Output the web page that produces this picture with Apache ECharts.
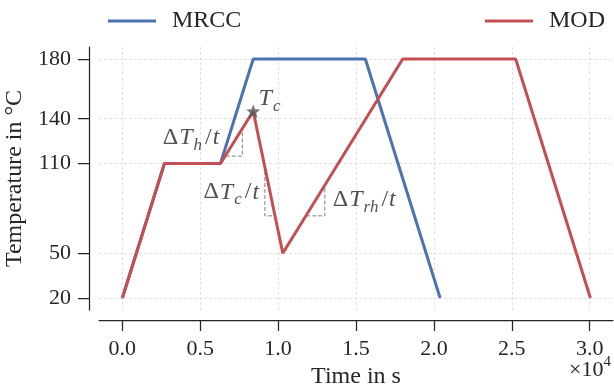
<!DOCTYPE html>
<html>
<head>
<meta charset="utf-8">
<script src="https://cdn.jsdelivr.net/npm/echarts@6/dist/echarts.min.js"></script>
<style>
html,body{margin:0;padding:0;background:#fff;}
#chart{width:614px;height:389px;}
</style>
</head>
<body>
<div id="chart"></div>
<script>
// ---- data (time in s, temperature in °C) ----
const seriesNames = ['MRCC', 'MOD'];
const mrccTime = [0, 2700, 6300, 8400, 15600, 20400];
const mrccTemp = [20, 110, 110, 180, 180, 20];
const modTime  = [0, 2700, 6300, 8400, 10300, 18000, 25250, 30050];
const modTemp  = [20, 110, 110, 145, 50, 180, 180, 20];

const xTicks = [0, 5000, 10000, 15000, 20000, 25000, 30000];
const yTicks = [20, 50, 110, 140, 180];

// slope triangles (data units)
const triHeatTime = [6650, 7700, 7700];
const triHeatTemp = [115, 115, 132];
const triCoolTime = [9150, 9150, 9800];
const triCoolTemp = [105, 75, 75];
const triReheatTime = [11800, 13000, 13000];
const triReheatTemp = [75, 75, 94];

// Tc marker
const tcPoint = [8400, 145];

// annotation texts and anchor points (data units)
const annotText = ['Tc', 'dTh', 'dTc', 'dTrh'];
const annotTime = [8780, 2560, 5170, 13480];
const annotTemp = [153, 127, 90.5, 85.5];

const FONT = 'Liberation Serif';
const INK = '#262626';

function zip(a, b) { return a.map((v, i) => [v, b[i]]); }

const richMap = {
  Tc: '{m|T}{s|c}',
  dTh: '{r|Δ}{m|T}{s|h}{r|/}{m|t}',
  dTc: '{r|Δ}{m|T}{s|c}{r|/}{m|t}',
  dTrh: '{r|Δ}{m|T}{s|rh}{r|/}{m|t}'
};
const rich = {
  m: {fontFamily: FONT, fontSize: 24, fontStyle: 'italic', color: INK, lineHeight: 32, verticalAlign: 'middle', padding: [0, 1, 0, 0]},
  r: {fontFamily: FONT, fontSize: 24, color: INK, lineHeight: 32, verticalAlign: 'middle', padding: [0, 1, 0, 1]},
  s: {fontFamily: FONT, fontSize: 17, fontStyle: 'italic', color: INK, lineHeight: 17, verticalAlign: 'bottom', padding: [0, 2, 0, 0]}
};

const dashStyle = {color: '#7f7f7f', width: 1, type: [4, 2]};
function triSeries(t, v) {
  return {type: 'line', data: zip(t, v), symbol: 'none', silent: true, z: 3,
          lineStyle: dashStyle, animation: false};
}

const legendCommon = {itemWidth: 48, itemHeight: 3, icon: 'rect',
  textStyle: {fontFamily: FONT, fontSize: 24, color: INK, padding: [0, 0, 0, 11]}};

const chart = echarts.init(document.getElementById('chart'), null, {renderer: 'canvas'});
chart.setOption({
  animation: false,
  backgroundColor: '#ffffff',
  textStyle: {fontFamily: FONT},
  grid: {left: 99, top: 47, width: 514, height: 263, containLabel: false, outerBoundsMode: 'none'},
  legend: [
    Object.assign({data: [seriesNames[0]], left: 103, top: 4}, legendCommon),
    Object.assign({data: [seriesNames[1]], left: 480, top: 4}, legendCommon)
  ],
  xAxis: {
    type: 'value', min: -1500, max: 31500, offset: 10,
    name: 'Time in s', nameLocation: 'middle', nameGap: 43,
    nameTextStyle: {fontFamily: FONT, fontSize: 24, color: INK},
    axisLine: {show: true, onZero: false, lineStyle: {color: INK, width: 1.25}},
    axisTick: {show: true, length: 11, customValues: xTicks, lineStyle: {color: INK, width: 1.25}},
    axisLabel: {customValues: xTicks, margin: 18, fontFamily: FONT, fontSize: 22, color: INK,
                formatter: v => (v / 10000).toFixed(1)},
    splitLine: {show: true, lineStyle: {color: '#dadada', width: 0.8, type: [3, 2]}}
  },
  yAxis: {
    type: 'value', min: 12, max: 188, offset: 10,
    name: 'Temperature in °C', nameLocation: 'middle', nameGap: 53, nameRotate: 90,
    nameTextStyle: {fontFamily: FONT, fontSize: 24, color: INK},
    axisLine: {show: true, onZero: false, lineStyle: {color: INK, width: 1.25}},
    axisTick: {show: true, length: 11, customValues: yTicks, lineStyle: {color: INK, width: 1.25}},
    axisLabel: {customValues: yTicks, margin: 18, fontFamily: FONT, fontSize: 22, color: INK},
    splitLine: {show: true, lineStyle: {color: '#dadada', width: 0.8, type: [3, 2]}}
  },
  graphic: [{
    type: 'text', right: 3, top: 355,
    style: {text: '{a|×10}{p|4}', rich: {
      a: {fontFamily: FONT, fontSize: 22, fill: INK, lineHeight: 30, verticalAlign: 'middle'},
      p: {fontFamily: FONT, fontSize: 15, fill: INK, lineHeight: 15, verticalAlign: 'top'}
    }}
  }],
  series: [
    {name: seriesNames[0], type: 'line', data: zip(mrccTime, mrccTemp), symbol: 'none',
     color: '#4C72B0', lineStyle: {width: 3, color: '#4C72B0'}, z: 4},
    {name: seriesNames[1], type: 'line', data: zip(modTime, modTemp), symbol: 'none',
     color: '#C44E52', lineStyle: {width: 3, color: '#C44E52'}, z: 5},
    triSeries(triHeatTime, triHeatTemp),
    triSeries(triCoolTime, triCoolTemp),
    triSeries(triReheatTime, triReheatTemp),
    {type: 'scatter', data: [tcPoint], z: 10, silent: true,
     symbol: 'path://M12,1 L14.9,8.6 L23,9 L16.7,14.1 L18.8,22 L12,17.5 L5.2,22 L7.3,14.1 L1,9 L9.1,8.6 Z',
     symbolSize: 14, itemStyle: {color: '#595959'}},
    {type: 'scatter', z: 11, silent: true, symbolSize: 1, itemStyle: {color: 'transparent'},
     data: annotText.map((k, i) => [annotTime[i], annotTemp[i], k]),
     label: {show: true, position: [0, 0], align: 'left', verticalAlign: 'middle',
             formatter: p => richMap[p.data[2]], rich: rich}}
  ]
});
</script>
</body>
</html>
